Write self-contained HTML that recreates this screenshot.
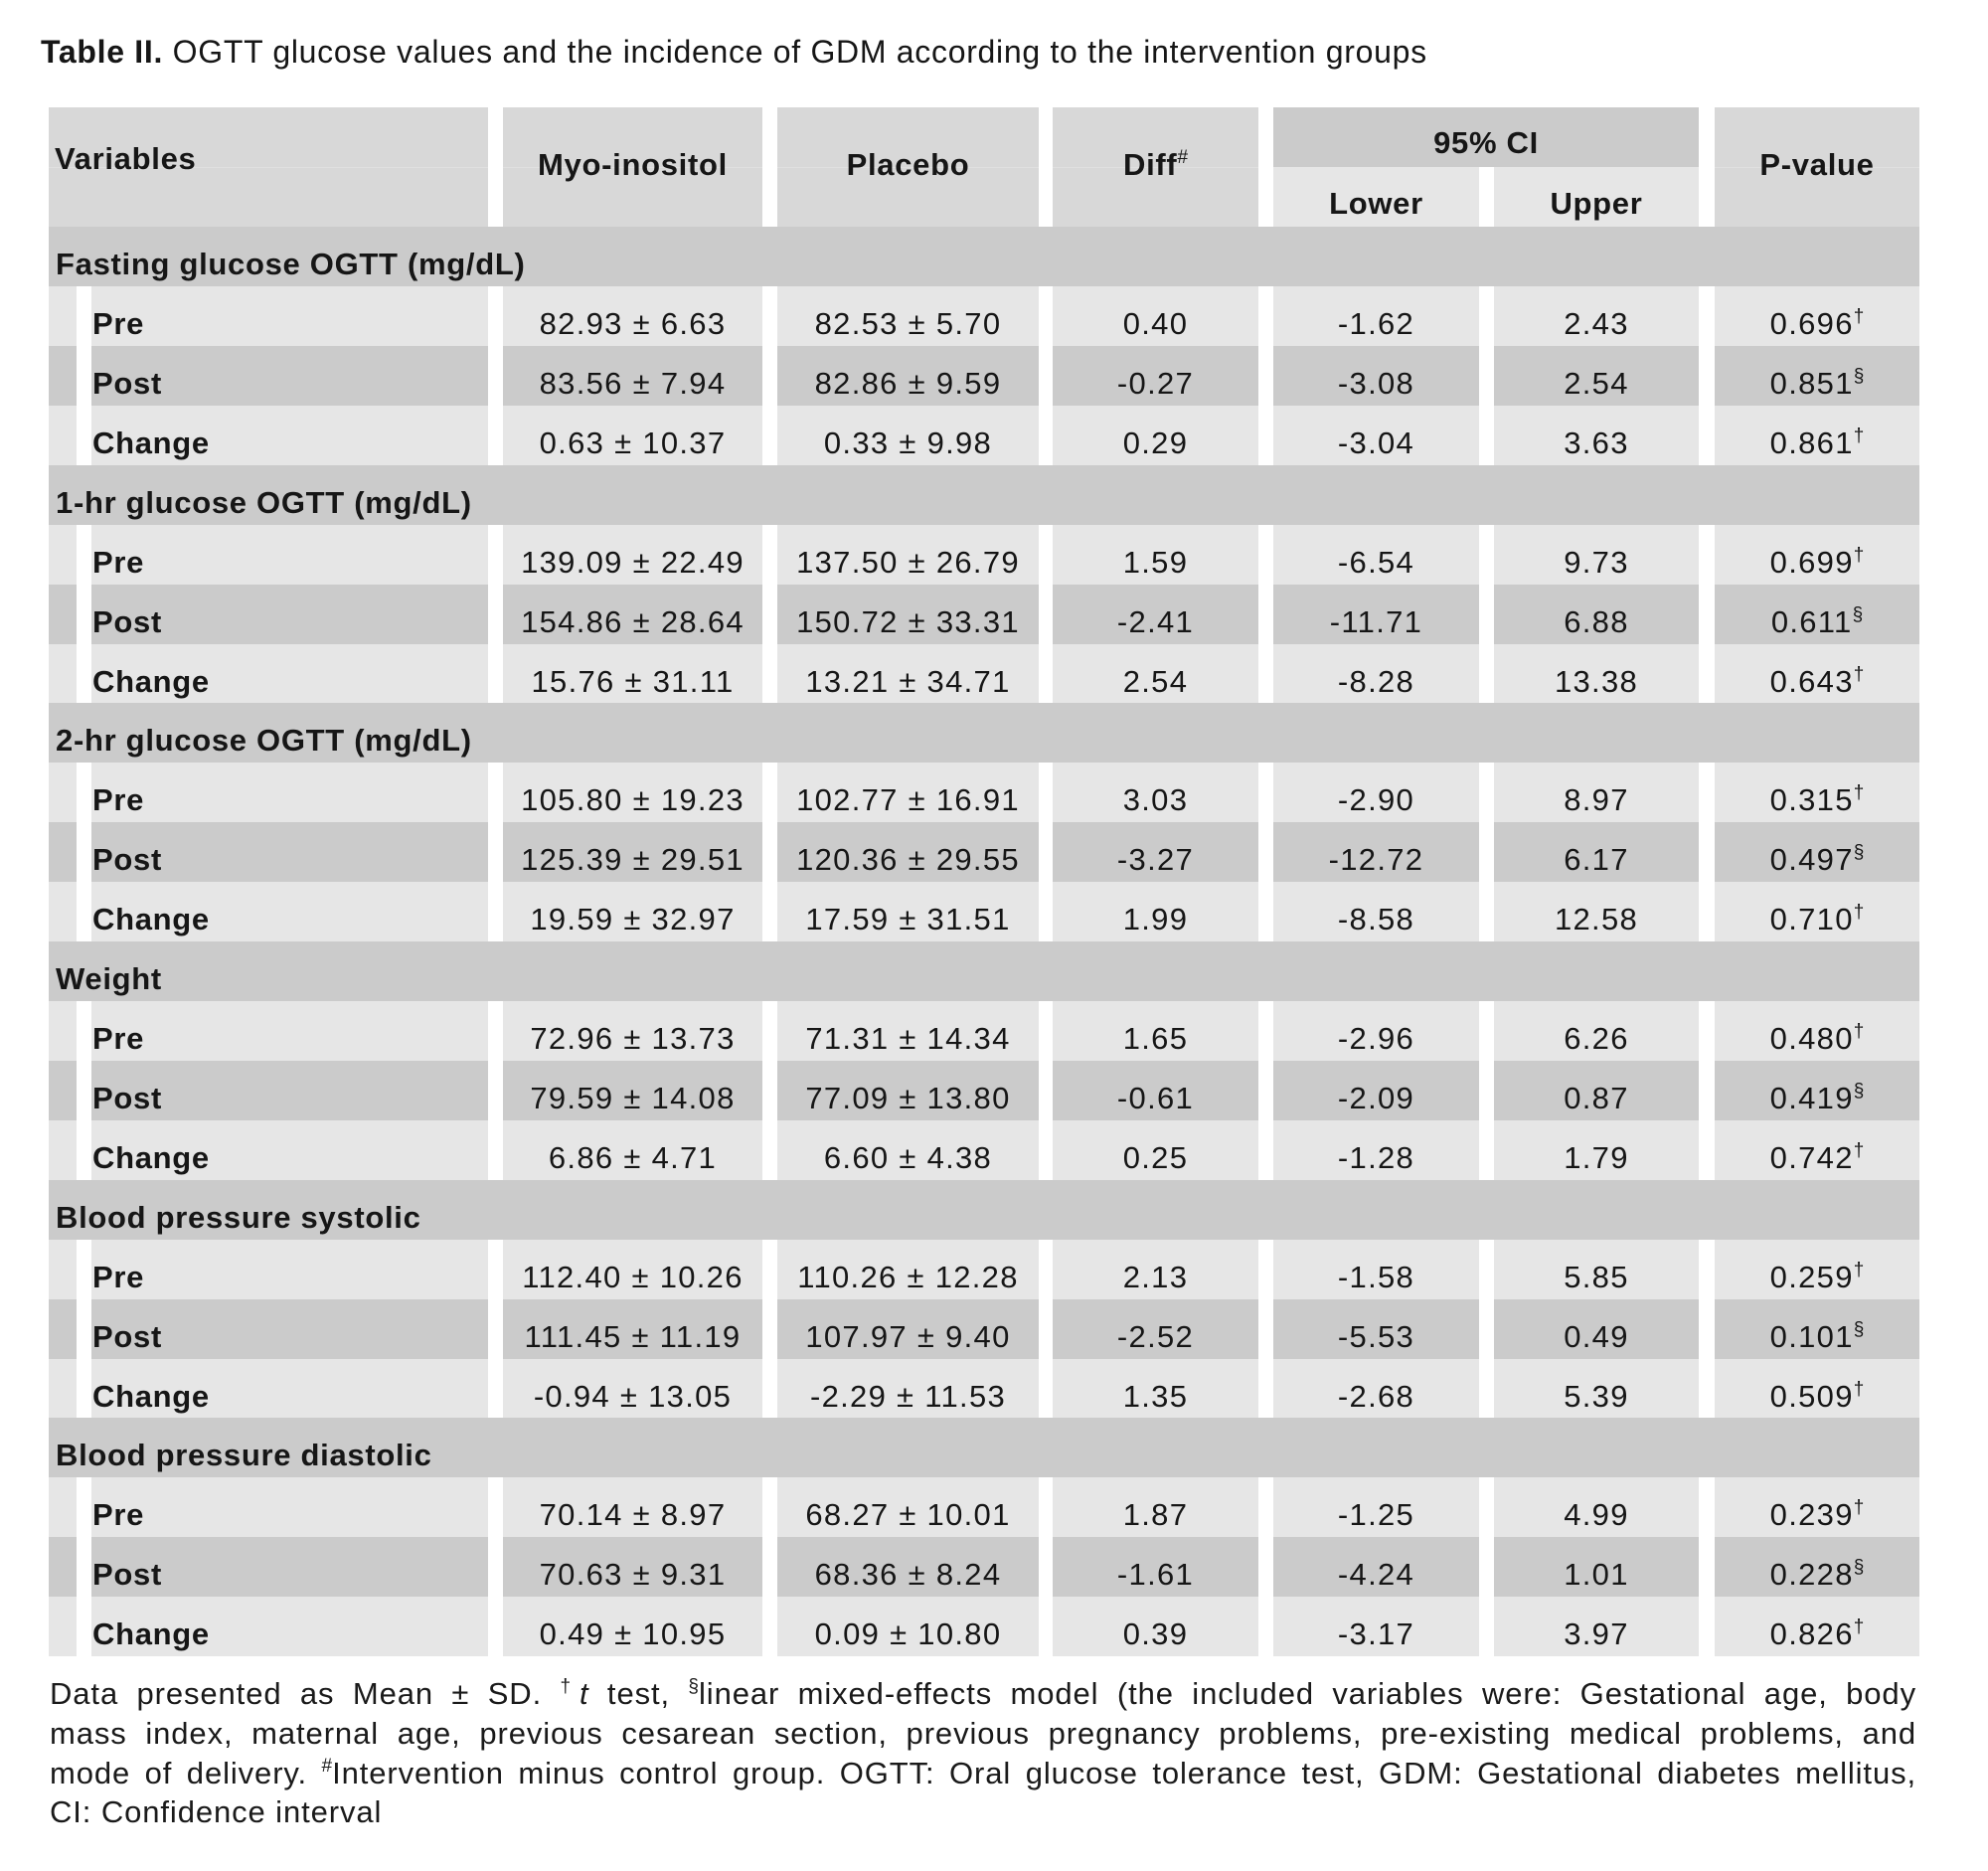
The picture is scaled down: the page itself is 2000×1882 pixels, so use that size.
<!DOCTYPE html>
<html>
<head>
<meta charset="utf-8">
<style>
body{margin:0;width:2000px;height:1882px;background:#fff;position:relative;overflow:hidden;font-family:"Liberation Sans",Arial,sans-serif;color:#161616}
.title{position:absolute;left:41px;top:32px;height:40px;line-height:40px;font-size:32px;letter-spacing:0.7px;white-space:nowrap}
.h{position:absolute;box-sizing:border-box;line-height:60px;font-size:31px;font-weight:bold;letter-spacing:0.7px;text-align:center;white-space:nowrap;background:#d8d8d8}
.hg{background:linear-gradient(to bottom,#d8d8d8 0,#d8d8d8 60px,#e0e0e0 60px,#e0e0e0 61px,#d8d8d8 61px,#d8d8d8 120px)}
.r{position:absolute;left:0;width:2000px;height:60px}
.c{position:absolute;top:0;height:60px;box-sizing:border-box;padding-top:8px;line-height:60px;text-align:center;white-space:nowrap;font-size:31px;letter-spacing:1.3px}
.L .c{background:#e6e6e6}.D .c{background:#cbcbcb}
.s0{left:49px;width:28px}
.s1{left:92px;width:399px;text-align:left!important;padding-left:1px;font-weight:bold;letter-spacing:0.7px!important}
.s2{left:506px;width:261px}
.s3{left:782px;width:263px}
.s4{left:1059px;width:207px}
.s5{left:1281px;width:207px}
.s6{left:1503px;width:206px}
.s7{left:1725px;width:206px}
.sec .c{left:49px;width:1882px;text-align:left;padding-left:7px;font-weight:bold;letter-spacing:0.7px;background:#cbcbcb}
.u{font-size:19px;position:relative;top:-12px;letter-spacing:0;font-weight:normal}
.fn{position:absolute;left:50px;width:1878px;height:40px;line-height:40px;font-size:31px;letter-spacing:0.9px;text-align:justify;text-align-last:justify;color:#1a1a1a}
.fu{font-size:19px;position:relative;top:-12px;letter-spacing:0}
</style>
</head>
<body>
<div class="title"><b>Table II.</b> OGTT glucose values and the incidence of GDM according to the intervention groups</div>

<!-- header -->
<div class="h hg" style="left:49px;top:108px;width:442px;height:120px;text-align:left;padding-left:6px;padding-top:22px;">Variables</div>
<div class="h hg" style="left:506px;top:108px;width:261px;height:120px;padding-top:28px;">Myo-inositol</div>
<div class="h hg" style="left:782px;top:108px;width:263px;height:120px;padding-top:28px;">Placebo</div>
<div class="h hg" style="left:1059px;top:108px;width:207px;height:120px;padding-top:28px;">Diff<span class="u">#</span></div>
<div class="h" style="left:1281px;top:108px;width:428px;height:60px;padding-top:6px;background:#cbcbcb;line-height:60px;">95% CI</div>
<div class="h" style="left:1281px;top:168px;width:207px;height:60px;padding-top:7px;background:#e6e6e6;">Lower</div>
<div class="h" style="left:1503px;top:168px;width:206px;height:60px;padding-top:7px;background:#e6e6e6;">Upper</div>
<div class="h hg" style="left:1725px;top:108px;width:206px;height:120px;padding-top:28px;">P-value</div>

<!-- Group 1 -->
<div class="r sec" style="top:228px"><div class="c">Fasting glucose OGTT (mg/dL)</div></div>
<div class="r L" style="top:288px"><div class="c s0"></div><div class="c s1">Pre</div><div class="c s2">82.93 ± 6.63</div><div class="c s3">82.53 ± 5.70</div><div class="c s4">0.40</div><div class="c s5">-1.62</div><div class="c s6">2.43</div><div class="c s7">0.696<span class="u">†</span></div></div>
<div class="r D" style="top:348px"><div class="c s0"></div><div class="c s1">Post</div><div class="c s2">83.56 ± 7.94</div><div class="c s3">82.86 ± 9.59</div><div class="c s4">-0.27</div><div class="c s5">-3.08</div><div class="c s6">2.54</div><div class="c s7">0.851<span class="u">§</span></div></div>
<div class="r L" style="top:408px"><div class="c s0"></div><div class="c s1">Change</div><div class="c s2">0.63 ± 10.37</div><div class="c s3">0.33 ± 9.98</div><div class="c s4">0.29</div><div class="c s5">-3.04</div><div class="c s6">3.63</div><div class="c s7">0.861<span class="u">†</span></div></div>

<!-- Group 2 -->
<div class="r sec" style="top:468px"><div class="c">1-hr glucose OGTT (mg/dL)</div></div>
<div class="r L" style="top:528px"><div class="c s0"></div><div class="c s1">Pre</div><div class="c s2">139.09 ± 22.49</div><div class="c s3">137.50 ± 26.79</div><div class="c s4">1.59</div><div class="c s5">-6.54</div><div class="c s6">9.73</div><div class="c s7">0.699<span class="u">†</span></div></div>
<div class="r D" style="top:588px"><div class="c s0"></div><div class="c s1">Post</div><div class="c s2">154.86 ± 28.64</div><div class="c s3">150.72 ± 33.31</div><div class="c s4">-2.41</div><div class="c s5">-11.71</div><div class="c s6">6.88</div><div class="c s7">0.611<span class="u">§</span></div></div>
<div class="r L" style="top:648px"><div class="c s0"></div><div class="c s1">Change</div><div class="c s2">15.76 ± 31.11</div><div class="c s3">13.21 ± 34.71</div><div class="c s4">2.54</div><div class="c s5">-8.28</div><div class="c s6">13.38</div><div class="c s7">0.643<span class="u">†</span></div></div>

<!-- Group 3 -->
<div class="r sec" style="top:707px"><div class="c">2-hr glucose OGTT (mg/dL)</div></div>
<div class="r L" style="top:767px"><div class="c s0"></div><div class="c s1">Pre</div><div class="c s2">105.80 ± 19.23</div><div class="c s3">102.77 ± 16.91</div><div class="c s4">3.03</div><div class="c s5">-2.90</div><div class="c s6">8.97</div><div class="c s7">0.315<span class="u">†</span></div></div>
<div class="r D" style="top:827px"><div class="c s0"></div><div class="c s1">Post</div><div class="c s2">125.39 ± 29.51</div><div class="c s3">120.36 ± 29.55</div><div class="c s4">-3.27</div><div class="c s5">-12.72</div><div class="c s6">6.17</div><div class="c s7">0.497<span class="u">§</span></div></div>
<div class="r L" style="top:887px"><div class="c s0"></div><div class="c s1">Change</div><div class="c s2">19.59 ± 32.97</div><div class="c s3">17.59 ± 31.51</div><div class="c s4">1.99</div><div class="c s5">-8.58</div><div class="c s6">12.58</div><div class="c s7">0.710<span class="u">†</span></div></div>

<!-- Group 4 -->
<div class="r sec" style="top:947px"><div class="c">Weight</div></div>
<div class="r L" style="top:1007px"><div class="c s0"></div><div class="c s1">Pre</div><div class="c s2">72.96 ± 13.73</div><div class="c s3">71.31 ± 14.34</div><div class="c s4">1.65</div><div class="c s5">-2.96</div><div class="c s6">6.26</div><div class="c s7">0.480<span class="u">†</span></div></div>
<div class="r D" style="top:1067px"><div class="c s0"></div><div class="c s1">Post</div><div class="c s2">79.59 ± 14.08</div><div class="c s3">77.09 ± 13.80</div><div class="c s4">-0.61</div><div class="c s5">-2.09</div><div class="c s6">0.87</div><div class="c s7">0.419<span class="u">§</span></div></div>
<div class="r L" style="top:1127px"><div class="c s0"></div><div class="c s1">Change</div><div class="c s2">6.86 ± 4.71</div><div class="c s3">6.60 ± 4.38</div><div class="c s4">0.25</div><div class="c s5">-1.28</div><div class="c s6">1.79</div><div class="c s7">0.742<span class="u">†</span></div></div>

<!-- Group 5 -->
<div class="r sec" style="top:1187px"><div class="c">Blood pressure systolic</div></div>
<div class="r L" style="top:1247px"><div class="c s0"></div><div class="c s1">Pre</div><div class="c s2">112.40 ± 10.26</div><div class="c s3">110.26 ± 12.28</div><div class="c s4">2.13</div><div class="c s5">-1.58</div><div class="c s6">5.85</div><div class="c s7">0.259<span class="u">†</span></div></div>
<div class="r D" style="top:1307px"><div class="c s0"></div><div class="c s1">Post</div><div class="c s2">111.45 ± 11.19</div><div class="c s3">107.97 ± 9.40</div><div class="c s4">-2.52</div><div class="c s5">-5.53</div><div class="c s6">0.49</div><div class="c s7">0.101<span class="u">§</span></div></div>
<div class="r L" style="top:1367px"><div class="c s0"></div><div class="c s1">Change</div><div class="c s2">-0.94 ± 13.05</div><div class="c s3">-2.29 ± 11.53</div><div class="c s4">1.35</div><div class="c s5">-2.68</div><div class="c s6">5.39</div><div class="c s7">0.509<span class="u">†</span></div></div>

<!-- Group 6 -->
<div class="r sec" style="top:1426px"><div class="c">Blood pressure diastolic</div></div>
<div class="r L" style="top:1486px"><div class="c s0"></div><div class="c s1">Pre</div><div class="c s2">70.14 ± 8.97</div><div class="c s3">68.27 ± 10.01</div><div class="c s4">1.87</div><div class="c s5">-1.25</div><div class="c s6">4.99</div><div class="c s7">0.239<span class="u">†</span></div></div>
<div class="r D" style="top:1546px"><div class="c s0"></div><div class="c s1">Post</div><div class="c s2">70.63 ± 9.31</div><div class="c s3">68.36 ± 8.24</div><div class="c s4">-1.61</div><div class="c s5">-4.24</div><div class="c s6">1.01</div><div class="c s7">0.228<span class="u">§</span></div></div>
<div class="r L" style="top:1606px"><div class="c s0"></div><div class="c s1">Change</div><div class="c s2">0.49 ± 10.95</div><div class="c s3">0.09 ± 10.80</div><div class="c s4">0.39</div><div class="c s5">-3.17</div><div class="c s6">3.97</div><div class="c s7">0.826<span class="u">†</span></div></div>

<!-- footnote -->
<div class="fn" style="top:1684px">Data presented as Mean ± SD. <span class="fu">†</span><i>t</i> test, <span class="fu">§</span>linear mixed-effects model (the included variables were: Gestational age, body</div>
<div class="fn" style="top:1724px">mass index, maternal age, previous cesarean section, previous pregnancy problems, pre-existing medical problems, and</div>
<div class="fn" style="top:1764px">mode of delivery. <span class="fu">#</span>Intervention minus control group. OGTT: Oral glucose tolerance test, GDM: Gestational diabetes mellitus,</div>
<div class="fn" style="top:1803px;text-align:left;text-align-last:left;">CI: Confidence interval</div>
</body>
</html>
